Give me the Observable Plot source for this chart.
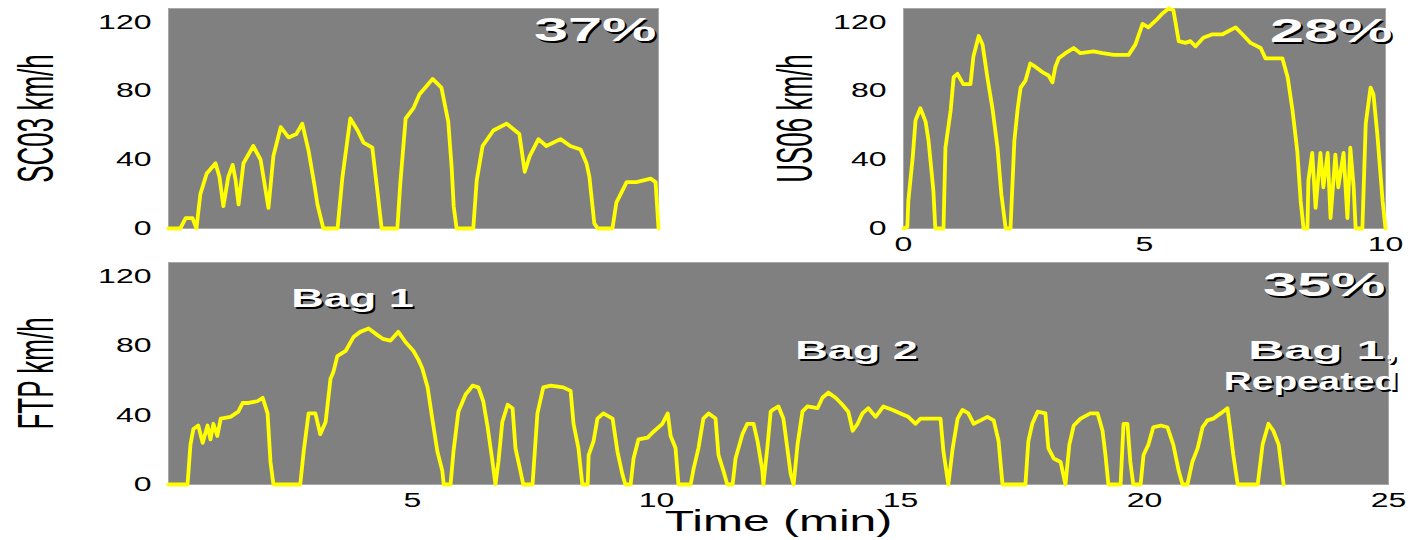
<!DOCTYPE html>
<html><head><meta charset="utf-8">
<script src="https://cdn.jsdelivr.net/npm/d3@7"></script>
<script src="https://cdn.jsdelivr.net/npm/@observablehq/plot@0.6"></script>
<style>
html,body{margin:0;padding:0;background:#fff;}
#chart{position:relative;width:1419px;height:540px;overflow:hidden;background:#fff;}
#chart svg{position:absolute;left:0;top:0;}
</style></head><body><div id="chart"></div>
<script>
// [time (min), speed (km/h)]
const sc03 = [[0,0],[0.24,0],[0.35,6],[0.49,6],[0.57,0],[0.65,20],[0.78,32],[0.96,38],[1.04,30],[1.12,13],[1.22,30],[1.31,37],[1.37,28],[1.43,14],[1.53,38],[1.73,48],[1.88,40],[2.04,12],[2.14,42],[2.29,59],[2.45,53],[2.61,55],[2.73,61],[2.86,45],[2.98,25],[3.04,14],[3.16,0],[3.45,0],[3.55,30],[3.71,64],[3.86,57],[3.98,50],[4.16,47],[4.27,20],[4.35,0],[4.67,0],[4.73,26],[4.84,64],[5.0,70],[5.12,78],[5.39,87],[5.57,82],[5.71,62],[5.78,35],[5.82,13],[5.88,0],[6.22,0],[6.29,28],[6.41,48],[6.63,57],[6.90,61],[7.16,55],[7.27,33],[7.37,42],[7.55,52],[7.71,48],[8.0,52],[8.2,48],[8.41,46],[8.53,38],[8.59,30],[8.69,3],[8.76,0],[9.06,0],[9.14,15],[9.35,27],[9.55,27],[9.84,29],[9.94,27],[10.0,0]];
const us06 = [[0,0],[0.08,1],[0.10,16],[0.19,41],[0.25,63],[0.35,70],[0.46,62],[0.52,51],[0.62,22],[0.66,0],[0.83,0],[0.87,47],[0.98,69],[1.04,88],[1.12,90],[1.24,84],[1.39,84],[1.45,100],[1.56,112],[1.64,107],[1.74,88],[1.85,69],[1.95,47],[2.03,20],[2.12,0],[2.22,0],[2.30,51],[2.37,70],[2.43,82],[2.53,86],[2.63,96],[2.74,94],[2.88,91],[3.01,89],[3.09,85],[3.15,94],[3.22,99],[3.36,102],[3.53,105],[3.67,102],[3.94,103],[4.13,102],[4.36,101],[4.67,101],[4.81,107],[4.96,119],[5.08,117],[5.27,122],[5.37,125],[5.50,128],[5.60,127],[5.71,109],[5.85,108],[5.95,109],[6.06,106],[6.22,111],[6.41,113],[6.62,113],[6.89,117],[7.03,113],[7.20,108],[7.41,105],[7.51,99],[7.72,99],[7.86,99],[7.97,88],[8.07,69],[8.17,45],[8.24,16],[8.30,0],[8.38,0],[8.40,28],[8.48,44],[8.55,12],[8.65,44],[8.71,24],[8.80,44],[8.86,6],[8.96,43],[9.02,24],[9.13,44],[9.21,6],[9.27,47],[9.34,24],[9.38,0],[9.52,0],[9.59,61],[9.69,82],[9.75,78],[9.83,55],[9.94,16],[10.0,0]];
const ftp = [[0,0],[0.39,0],[0.45,23],[0.51,32],[0.61,34],[0.70,24],[0.80,34],[0.86,26],[0.92,35],[1.00,28],[1.07,38],[1.27,39],[1.43,42],[1.52,47],[1.64,47],[1.82,48],[1.93,50],[2.03,41],[2.09,13],[2.15,0],[2.70,0],[2.77,19],[2.87,41],[3.01,41],[3.11,29],[3.22,36],[3.32,61],[3.38,65],[3.46,74],[3.63,77],[3.79,85],[3.93,88],[4.10,90],[4.24,87],[4.39,84],[4.55,83],[4.71,88],[4.86,82],[5.02,77],[5.12,72],[5.20,67],[5.31,56],[5.41,37],[5.51,19],[5.61,8],[5.64,0],[5.78,0],[5.84,19],[5.94,42],[6.09,52],[6.15,54],[6.23,57],[6.35,56],[6.45,48],[6.54,33],[6.64,13],[6.70,0],[6.76,13],[6.84,36],[6.95,46],[7.05,44],[7.11,21],[7.21,8],[7.27,0],[7.46,0],[7.56,41],[7.68,56],[7.83,57],[8.09,56],[8.24,54],[8.30,35],[8.40,21],[8.48,0],[8.59,0],[8.61,17],[8.71,25],[8.79,38],[8.91,41],[9.10,38],[9.20,19],[9.30,6],[9.36,0],[9.47,0],[9.53,15],[9.63,26],[9.82,27],[9.92,30],[10.12,35],[10.23,41],[10.29,28],[10.39,21],[10.45,0],[10.70,0],[10.76,9],[10.86,21],[10.96,38],[11.07,41],[11.21,38],[11.27,17],[11.37,8],[11.45,0],[11.56,0],[11.62,15],[11.76,29],[11.86,35],[11.99,35],[12.07,25],[12.17,8],[12.19,0],[12.27,21],[12.34,42],[12.38,43],[12.50,45],[12.60,38],[12.68,21],[12.75,6],[12.81,0],[12.89,23],[12.99,42],[13.09,45],[13.30,44],[13.40,50],[13.52,53],[13.67,50],[13.81,46],[13.93,42],[14.02,31],[14.12,35],[14.22,41],[14.34,44],[14.49,39],[14.65,45],[14.84,43],[15.00,41],[15.16,39],[15.31,35],[15.41,38],[15.61,38],[15.82,38],[15.88,19],[15.98,0],[16.07,21],[16.17,38],[16.27,43],[16.39,41],[16.50,35],[16.64,37],[16.78,39],[16.91,37],[17.01,25],[17.09,0],[17.56,0],[17.62,25],[17.70,35],[17.81,42],[17.97,41],[18.03,21],[18.14,15],[18.28,13],[18.38,0],[18.46,23],[18.55,34],[18.69,38],[18.89,41],[19.04,41],[19.14,31],[19.20,17],[19.26,0],[19.51,0],[19.57,35],[19.65,35],[19.71,13],[19.77,0],[19.92,0],[19.98,17],[20.08,23],[20.18,33],[20.33,34],[20.47,33],[20.59,23],[20.70,8],[20.78,0],[20.88,0],[20.98,13],[21.09,21],[21.19,33],[21.29,37],[21.41,38],[21.56,41],[21.70,44],[21.76,31],[21.82,17],[21.91,0],[22.32,0],[22.42,23],[22.54,35],[22.64,31],[22.75,23],[22.85,0]];

const yTicks = [0, 40, 80, 120];
const us06XTicks = [0, 5, 10];
const ftpXTicks = [5, 10, 15, 20, 25];
const panelLabels = ["SC03 km/h", "US06 km/h", "FTP km/h"];
const shares = ["37%", "28%", "35%"];
const bagNames = ["Bag 1", "Bag 2", "Bag 1,\nRepeated"];
const bagTimes = [3.77, 14.1, 25.2];
const bagSpeeds = [107, 77, 69];
const bagAlign = ["middle", "middle", "end"];
const xTitle = "Time (min)";

const FONT = "'Liberation Sans', Arial, sans-serif";
const bags = bagNames.map((name, i) => ({name, t: bagTimes[i], v: bagSpeeds[i], align: bagAlign[i]}));

function shadowText(data, opts) {
  return [
    Plot.text(data, {...opts, fill: "black", dx: (opts.dx || 0) + 2, dy: (opts.dy || 0) + 2, className: "wide"}),
    Plot.text(data, {...opts, fill: "white", className: "wide"})
  ];
}

function panel({data, m, xDomain, xTicks, label, labelOffset, share, shareDx, shareDy, extra = [], xLabel = null, xLabelOffset = 0}) {
  return Plot.plot({
    width: 1419, height: 540,
    marginLeft: m[0], marginRight: m[1], marginTop: m[2], marginBottom: m[3],
    style: {background: "transparent", fontFamily: FONT, color: "black", overflow: "visible"},
    x: {domain: xDomain, axis: null},
    y: {domain: [0, 128], axis: null},
    marks: [
      Plot.frame({fill: "#808080", stroke: "#a8a8a8"}),
      Plot.axisY(yTicks, {tickSize: 0, tickPadding: 17, fontSize: 20, label: null}),
      Plot.axisY({ticks: [], tickSize: 0, label, labelAnchor: "center", labelOffset, labelArrow: "none", fontSize: 26}),
      xTicks ? Plot.axisX(xTicks, {tickSize: 0, tickPadding: 8, fontSize: 20, label: null}) : null,
      xLabel ? Plot.axisX({ticks: [], tickSize: 0, label: xLabel, labelAnchor: "center", labelOffset: xLabelOffset, labelArrow: "none", fontSize: 30}) : null,
      Plot.line(data, {x: d => d[0], y: d => d[1], stroke: "#ffff00", strokeWidth: 3.8}),
      ...shadowText([share], {text: d => d, frameAnchor: "top-right", textAnchor: "end", lineAnchor: "top", dx: shareDx, dy: shareDy, fontSize: 34, fontWeight: "bold"}),
      ...extra
    ]
  });
}

const chart = document.getElementById("chart");
const p1 = panel({data: sc03, m: [168, 1419 - 658, 8, 540 - 228], xDomain: [0, 10], xTicks: null, label: panelLabels[0], labelOffset: 151, share: shares[0], shareDx: -2, shareDy: 8});
const p2 = panel({data: us06, m: [903, 1419 - 1385, 8, 540 - 228], xDomain: [0, 10], xTicks: us06XTicks, label: panelLabels[1], labelOffset: 127, share: shares[1], shareDx: 7, shareDy: 9});
const bagMarks = [
  ...shadowText(bags.filter(d => d.align === "middle"), {x: "t", y: "v", text: "name", textAnchor: "middle", fontSize: 25, fontWeight: "bold"}),
  ...shadowText(bags.filter(d => d.align === "end"), {x: "t", y: "v", text: "name", textAnchor: "end", lineHeight: 1.25, fontSize: 25, fontWeight: "bold"})
];
const p3 = panel({data: ftp, m: [168, 1419 - 1388, 262, 540 - 484], xDomain: [0, 25], xTicks: ftpXTicks, label: panelLabels[2], labelOffset: 151, share: shares[2], shareDx: -3, shareDy: 9,
  xLabel: xTitle, xLabelOffset: 46, extra: bagMarks});
chart.append(p1, p2, p3);

// The reference figure is stretched horizontally; widen the texts the same way.
function widenRotated(t, f) {
  const tr = t.getAttribute("transform") || "";
  const m = tr.match(/translate\(\s*([-\d.e+]+)[ ,]+([-\d.e+]+)\s*\)/);
  const cx = m ? +m[1] : 0;
  const g = document.createElementNS("http://www.w3.org/2000/svg", "g");
  g.setAttribute("transform", `translate(${cx},0) scale(${f},1) translate(${-cx},0)`);
  t.parentNode.insertBefore(g, t);
  g.appendChild(t);
}
function stretch(svg) {
  svg.querySelectorAll("text").forEach(t => {
    const tr = t.getAttribute("transform") || "";
    if (tr.includes("rotate")) { widenRotated(t, 1.9); return; }
    const wide = !!t.closest(".wide");
    const spans = t.querySelectorAll("tspan");
    const els = spans.length ? Array.from(spans) : [t];
    for (const el of els) {
      const L = el.getComputedTextLength();
      if (L > 0) {
        let g = wide ? 1.8 : 1.6;
        if (spans.length && wide) g = el.textContent.length > 6 ? 1.55 : 2.0;
        el.setAttribute("textLength", (L * g).toFixed(1));
        el.setAttribute("lengthAdjust", "spacingAndGlyphs");
      }
    }
  });
}
[p1, p2, p3].forEach(stretch);
</script></body></html>
